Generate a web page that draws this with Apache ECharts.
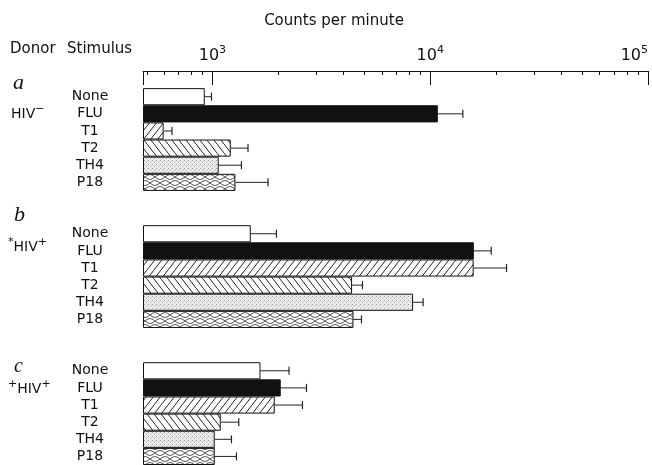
<!DOCTYPE html>
<html><head><meta charset="utf-8">
<script src="https://cdn.jsdelivr.net/npm/echarts@6/dist/echarts.min.js"></script>
<style>html,body{margin:0;padding:0;background:#fff}#c{width:652px;height:465px}</style>
</head><body><div id="c"></div>
<script>
// ---- data ----
const stimuli = ['None', 'FLU', 'T1', 'T2', 'TH4', 'P18'];
const panelA    = [922, 10840, 597, 1214, 1069, 1275];
const panelAErr = [990, 14120, 652, 1457, 1359, 1800];
const panelB    = [1500, 15860, 15830, 4378, 8345, 4443];
const panelBErr = [1968, 19060, 22410, 4887, 9277, 4836];
const panelC    = [1662, 2059, 1933, 1092, 1025, 1025];
const panelCErr = [2248, 2703, 2591, 1321, 1223, 1289];
const axisMin = 480, axisMax = 100000;
const minorTicks = [500, 600, 700, 800, 900, 2000, 3000, 4000, 5000, 6000, 7000, 8000, 9000,
  20000, 30000, 40000, 50000, 60000, 70000, 80000, 90000];
const panelLetters = ['a', 'b', 'c'];
const donorLabels = ['{s|}HIV{s|\u2212}', '{s|*}HIV{s|+}', '{s|+}HIV{s|+}'];

// ---- patterns ----
function tile(w, h, draw) {
  const c = document.createElement('canvas');
  c.width = w; c.height = h;
  const g = c.getContext('2d');
  g.fillStyle = '#fff'; g.fillRect(0, 0, w, h);
  g.strokeStyle = '#222'; g.fillStyle = '#222'; g.lineWidth = 1;
  draw(g, w, h);
  return { image: c, repeat: 'repeat' };
}
function eyes(g, w, cy, amp, phase) {
  [1, -1].forEach(sg => {
    g.beginPath();
    for (let x = 0; x <= w; x += 0.5) {
      const y = cy + sg * amp * Math.abs(Math.sin(Math.PI * (x + phase) / w));
      if (x === 0) g.moveTo(x, y); else g.lineTo(x, y);
    }
    g.stroke();
  });
}
const patterns = {
  None: '#fff',
  FLU: '#111',
  T1: tile(7, 9, (g, w, h) => { g.beginPath(); g.moveTo(0, h); g.lineTo(w, 0); g.moveTo(-1, 1); g.lineTo(1, -1); g.moveTo(w - 1, h + 1); g.lineTo(w + 1, h - 1); g.stroke(); }),
  T2: tile(7, 9, (g, w, h) => { g.beginPath(); g.moveTo(0, 0); g.lineTo(w, h); g.moveTo(w - 1, -1); g.lineTo(w + 1, 1); g.moveTo(-1, h - 1); g.lineTo(1, h + 1); g.stroke(); }),
  TH4: tile(4, 4, (g) => { g.fillStyle = '#ececec'; g.fillRect(0, 0, 4, 4); g.fillStyle = '#999'; g.fillRect(0, 0, 1, 1); g.fillStyle = '#b5b5b5'; g.fillRect(2, 2, 1, 1); g.fillStyle = '#c8c8c8'; g.fillRect(3, 1, 1, 1); }),
  P18: tile(10, 12, (g, w, h) => {
    g.strokeStyle = '#333';
    eyes(g, w, 3, 2.4, 0);
    eyes(g, w, 9, 2.4, w / 2);
  })
};

// ---- rows ----
const panels = [[panelA, panelAErr], [panelB, panelBErr], [panelC, panelCErr]];
const rowKeys = [], barData = [], errData = [];
function gap(k) { rowKeys.push('gap' + k); barData.push('-'); }
panels.forEach((p, pi) => {
  gap(pi + 'x');
  if (pi > 0) gap(pi + 'y');
  stimuli.forEach((s, si) => {
    const idx = rowKeys.length;
    rowKeys.push(pi + ':' + s);
    barData.push({ value: p[0][si], itemStyle: { color: patterns[s] } });
    errData.push([p[1][si], idx, p[0][si]]);
  });
});

const font = 'DejaVu Sans';
const letterStyle = { fontFamily: 'Liberation Serif', fontStyle: 'italic', fill: '#111', align: 'left', verticalAlign: 'middle' };
const donorStyle = { fontSize: 14, fontFamily: font, fill: '#111', lineHeight: 20, align: 'left', verticalAlign: 'middle',
  rich: { s: { fontSize: 11, fontFamily: font, lineHeight: 12, verticalAlign: 'top', fill: '#111' } } };
const chart = echarts.init(document.getElementById('c'));
chart.setOption({
  animation: false,
  backgroundColor: '#fff',
  grid: { left: 143, right: 4, top: 71, height: 395, containLabel: false },
  xAxis: [{
    type: 'log', logBase: 10, min: axisMin, max: axisMax, position: 'top', startValue: axisMin,
    axisLine: { show: true, onZero: false, lineStyle: { color: '#111', width: 1 } },
    axisTick: { show: true, inside: true, length: 14, lineStyle: { color: '#111', width: 1 } },
    splitLine: { show: false },
    axisLabel: {
      margin: 4, alignMaxLabel: 'right', color: '#111',
      formatter: v => {
        const e = Math.round(Math.log10(v));
        return Math.abs(Math.pow(10, e) - v) < 1e-6 * v ? '{b|10}{s|' + e + '}' : '';
      },
      rich: {
        b: { fontSize: 16, fontFamily: font, lineHeight: 22, color: '#111' },
        s: { fontSize: 11, fontFamily: font, lineHeight: 14, verticalAlign: 'top', color: '#111' }
      }
    }
  }, {
    type: 'log', logBase: 10, min: axisMin, max: axisMax, position: 'top', gridIndex: 0,
    axisLine: { show: false }, axisLabel: { show: false }, splitLine: { show: false },
    axisTick: { show: true, inside: true, length: 4, customValues: minorTicks, lineStyle: { color: '#111', width: 1 } }
  }],
  yAxis: {
    type: 'category', inverse: true, data: rowKeys,
    axisLine: { show: false }, axisTick: { show: false }, splitLine: { show: false },
    axisLabel: {
      interval: 0, margin: 53, align: 'center', color: '#111', fontSize: 14, fontFamily: font,
      formatter: k => k.startsWith('gap') ? '' : k.split(':')[1]
    }
  },
  series: [{
    type: 'bar', data: barData, barCategoryGap: '0%', clip: true,
    itemStyle: { borderColor: '#111', borderWidth: 1 }
  }, {
    type: 'custom', data: errData, encode: { x: [0, 2], y: 1 }, clip: false,
    renderItem: (params, api) => {
      const a = api.coord([api.value(2), api.value(1)]);
      const b = api.coord([api.value(0), api.value(1)]);
      return { type: 'group', children: [
        { type: 'line', shape: { x1: a[0], y1: a[1], x2: b[0], y2: b[1] }, style: { stroke: '#222', lineWidth: 1 } },
        { type: 'line', shape: { x1: b[0], y1: b[1] - 4, x2: b[0], y2: b[1] + 4 }, style: { stroke: '#222', lineWidth: 1.2 } }
      ] };
    }
  }],
  graphic: [
    { type: 'text', x: 334, y: 21, style: { text: 'Counts per minute', fontSize: 15, fontFamily: font, fill: '#111', align: 'center', verticalAlign: 'middle' } },
    { type: 'text', x: 10, y: 49, style: { text: 'Donor', fontSize: 15, fontFamily: font, fill: '#111', align: 'left', verticalAlign: 'middle' } },
    { type: 'text', x: 67, y: 49, style: { text: 'Stimulus', fontSize: 15, fontFamily: font, fill: '#111', align: 'left', verticalAlign: 'middle' } },
    { type: 'text', x: 13, y: 83, style: Object.assign({ text: panelLetters[0], fontSize: 22 }, letterStyle) },
    { type: 'text', x: 14, y: 215, style: Object.assign({ text: panelLetters[1], fontSize: 22 }, letterStyle) },
    { type: 'text', x: 14, y: 367, style: Object.assign({ text: panelLetters[2], fontSize: 20 }, letterStyle) },
    { type: 'text', x: 11, y: 114, style: Object.assign({ text: donorLabels[0] }, donorStyle) },
    { type: 'text', x: 8, y: 247, style: Object.assign({ text: donorLabels[1] }, donorStyle) },
    { type: 'text', x: 8, y: 389, style: Object.assign({ text: donorLabels[2] }, donorStyle) }
  ]
});
</script>
</body></html>
